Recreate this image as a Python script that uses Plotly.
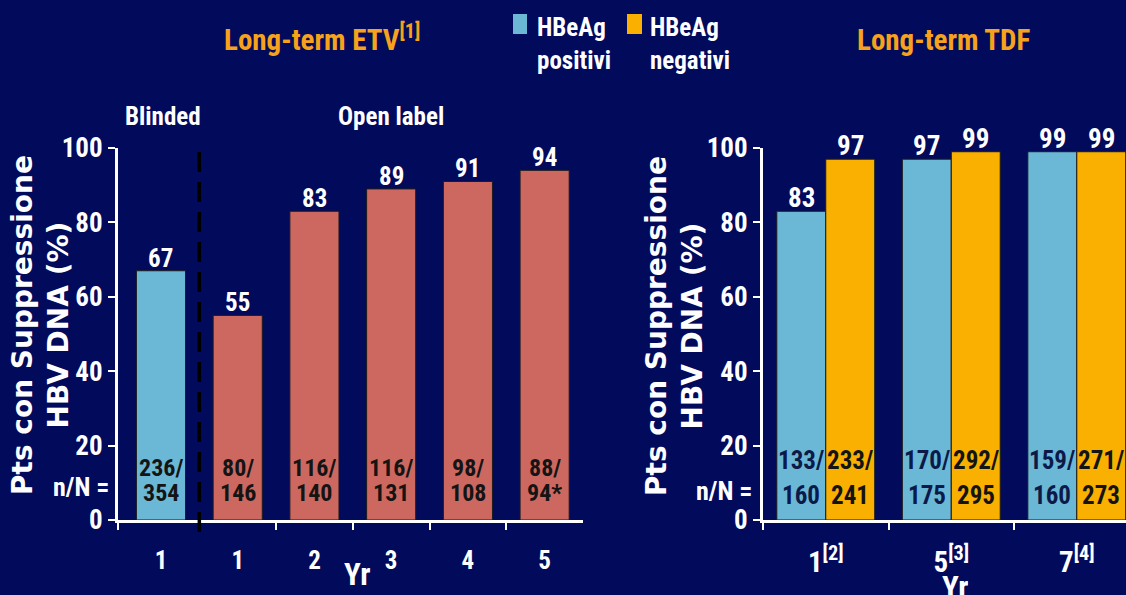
import plotly.graph_objects as go

W, H = 1126, 595

# ---- Long-term ETV (entecavir) ----
etv_ticks = ["1", "1", "2", "3", "4", "5"]
etv_blind_vals = [67]
etv_open_vals = [55, 83, 89, 91, 94]
etv_n = ["236/", "80/", "116/", "116/", "98/", "88/"]
etv_N = ["354", "146", "140", "131", "108", "94*"]

# ---- Long-term TDF (tenofovir) ----
tdf_ticks = ["1<sup>[2]</sup>", "5<sup>[3]</sup>", "7<sup>[4]</sup>"]
tdf_pos = [83, 97, 99]
tdf_neg = [97, 99, 99]
tdf_pos_n = ["133/", "170/", "159/"]
tdf_pos_N = ["160", "175", "160"]
tdf_neg_n = ["233/", "292/", "271/"]
tdf_neg_N = ["241", "295", "273"]

BG = "#020a5c"
BLUE = "#6bb8d6"
RED = "#cd6860"
ORANGE = "#f9b000"
TITLE_ORANGE = "#f7a21b"
WHITE = "white"
NARROW = "Roboto Condensed, Open Sans Condensed, DejaVu Sans Condensed, sans-serif"
WIDE = "DejaVu Sans, Verdana, sans-serif"


def px(x):
    return x / W


def py(y):
    return 1 - y / H


etv_x = list(range(len(etv_ticks)))
tdf_x = list(range(len(tdf_ticks)))
ETV_W = 0.64
TDF_W = 0.39

bar_line = dict(color="#1c1c1c", width=1)

fig = go.Figure()

# ETV: blinded year 1 and open-label years 1-5
fig.add_trace(go.Bar(
    x=etv_x[:1], y=etv_blind_vals, width=ETV_W, offset=-ETV_W / 2,
    marker=dict(color=BLUE, line=bar_line),
    xaxis="x", yaxis="y", showlegend=False,
))
fig.add_trace(go.Bar(
    x=etv_x[1:], y=etv_open_vals, width=ETV_W, offset=-ETV_W / 2,
    marker=dict(color=RED, line=bar_line),
    xaxis="x", yaxis="y", showlegend=False,
))

# TDF: HBeAg positive / negative side by side
fig.add_trace(go.Bar(
    x=tdf_x, y=tdf_pos, width=TDF_W, offset=-TDF_W,
    marker=dict(color=BLUE, line=bar_line),
    xaxis="x2", yaxis="y2", name="HBeAg positivi", showlegend=False,
))
fig.add_trace(go.Bar(
    x=tdf_x, y=tdf_neg, width=TDF_W, offset=0,
    marker=dict(color=ORANGE, line=bar_line),
    xaxis="x2", yaxis="y2", name="HBeAg negativi", showlegend=False,
))

tick_font = dict(family=NARROW, size=27, color=WHITE, weight="bold")

yaxis_common = dict(
    range=[0, 100], tickvals=[0, 20, 40, 60, 80, 100],
    showline=True, linecolor=WHITE, linewidth=3,
    ticks="outside", ticklen=7, tickwidth=2, tickcolor=WHITE,
    showgrid=False, zeroline=False, tickfont=tick_font,
    domain=[py(520), py(148)], automargin=False,
)

fig.update_layout(
    width=W, height=H,
    margin=dict(l=0, r=0, t=0, b=0, autoexpand=False),
    paper_bgcolor=BG, plot_bgcolor=BG,
    barmode="overlay",
    xaxis=dict(
        domain=[px(118), px(583)], range=[-0.56, 5.5],
        tickvals=etv_x, ticktext=etv_ticks, ticks="",
        showline=True, linecolor=WHITE, linewidth=3,
        showgrid=False, zeroline=False,
        tickfont=dict(family=NARROW, size=25, color=WHITE, weight="bold"),
        ticklabelstandoff=16, automargin=False,
        minor=dict(tickvals=[-0.56, 1.5, 2.5, 3.5, 4.5], ticks="outside",
                   ticklen=7, tickwidth=2, tickcolor=WHITE, showgrid=False),
        anchor="y",
    ),
    yaxis=dict(anchor="x", **yaxis_common),
    xaxis2=dict(
        domain=[px(763), 1.0], range=[-0.5, 2.392],
        tickvals=tdf_x, ticktext=tdf_ticks, ticks="",
        showline=True, linecolor=WHITE, linewidth=3,
        showgrid=False, zeroline=False,
        tickfont=dict(family=NARROW, size=29, color=WHITE, weight="bold"),
        ticklabelstandoff=14, automargin=False,
        minor=dict(tickvals=[-0.5, 0.5, 1.5], ticks="outside",
                   ticklen=7, tickwidth=2, tickcolor=WHITE, showgrid=False),
        anchor="y2",
    ),
    yaxis2=dict(anchor="x2", **yaxis_common),
)

ann = []


def label(text, x, y, size, color=WHITE, family=NARROW, xanchor="center",
          yanchor="middle", xref="paper", yref="paper", angle=0, align="center",
          yshift=0, height=None):
    a = dict(text=text, x=x, y=y, xref=xref, yref=yref,
             xanchor=xanchor, yanchor=yanchor, showarrow=False,
             textangle=angle, align=align, yshift=yshift,
             font=dict(family=family, size=size, color=color, weight="bold"))
    if height is not None:
        a["height"] = height
    ann.append(a)


# panel titles
label("Long-term ETV<sup>[1]</sup>", px(322), py(38), 29, TITLE_ORANGE)
label("Long-term TDF", px(943), py(40), 29, TITLE_ORANGE)
label("Blinded", px(163), py(117), 25)
label("Open label", px(391), py(117), 25)

# y-axis titles
ytitle = "Pts con Suppressione<br>HBV DNA (%)"
label(ytitle, px(41), py(325), 28, family=WIDE, angle=-90)
label(ytitle, px(674), py(326), 28, family=WIDE, angle=-90)

# n/N row captions
label("n/N =", px(111), py(487), 26, xanchor="right")
label("n/N =", px(754), py(491), 26, xanchor="right")

# x-axis titles
label("Yr", px(357), py(574), 31)
label("Yr", px(955), py(587), 31, height=26)

# value labels sitting on top of each bar
etv_vals = etv_blind_vals + etv_open_vals
for i in etv_x:
    label(str(etv_vals[i]), i, etv_vals[i], 25, xref="x", yref="y",
          yanchor="bottom", yshift=-4)
for i in tdf_x:
    label(str(tdf_pos[i]), i - TDF_W / 2, tdf_pos[i], 27, xref="x2", yref="y2",
          yanchor="bottom", yshift=-5)
    label(str(tdf_neg[i]), i + TDF_W / 2, tdf_neg[i], 27, xref="x2", yref="y2",
          yanchor="bottom", yshift=-5)

# n/N counts inside the bars
for i in etv_x:
    label(etv_n[i], i, 14.0, 24, "#141414", xref="x", yref="y", height=23)
    label(etv_N[i], i, 7.3, 24, "#141414", xref="x", yref="y", height=23)
for i in tdf_x:
    label(tdf_pos_n[i], i - TDF_W / 2, 16.1, 25, "#0c1a4a", xref="x2", yref="y2", height=26)
    label(tdf_pos_N[i], i - TDF_W / 2, 6.7, 25, "#0c1a4a", xref="x2", yref="y2", height=26)
    label(tdf_neg_n[i], i + TDF_W / 2, 16.1, 25, "#141414", xref="x2", yref="y2", height=26)
    label(tdf_neg_N[i], i + TDF_W / 2, 6.7, 25, "#141414", xref="x2", yref="y2", height=26)

# legend
label("HBeAg<br>positivi", px(535), py(44), 25, xanchor="left", align="left")
label("HBeAg<br>negativi", px(648), py(44), 25, xanchor="left", align="left")

shapes = [
    dict(type="rect", xref="paper", yref="paper",
         x0=px(513), x1=px(527), y0=py(34), y1=py(14),
         fillcolor=BLUE, line=dict(width=0)),
    dict(type="rect", xref="paper", yref="paper",
         x0=px(627), x1=px(642), y0=py(34), y1=py(14),
         fillcolor=ORANGE, line=dict(width=0)),
    # blinded / open-label divider
    dict(type="line", xref="x", yref="paper", x0=0.5, x1=0.5,
         y0=py(532), y1=py(143),
         line=dict(color="black", width=3.5, dash="20px,10px")),
]

fig.update_layout(annotations=ann, shapes=shapes)

fig.write_html("out.html")
